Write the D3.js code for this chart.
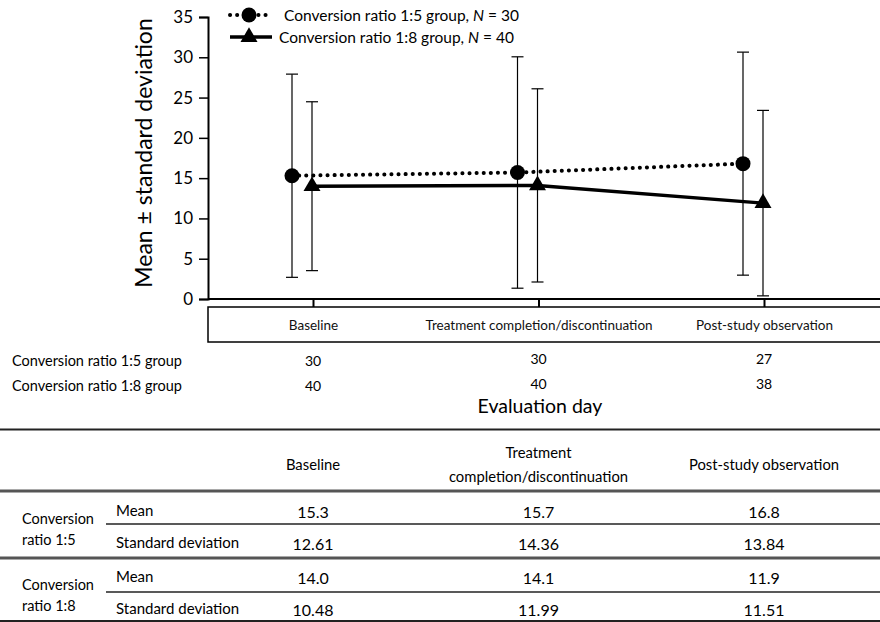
<!DOCTYPE html>
<html>
<head>
<meta charset="utf-8">
<script src="https://cdn.jsdelivr.net/npm/d3@7"></script>
<style>
  body { margin: 0; background: #fff; }
  svg { font-family: Lato, "Open Sans", sans-serif; display: block; }
</style>
</head>
<body>
<div id="chart"></div>
<script>
// data
var categories = ["Baseline", "Treatment completion/discontinuation", "Post-study observation"];
var headerLines = [["Baseline"], ["Treatment", "completion/discontinuation"], ["Post-study observation"]];
var mean15 = [15.3, 15.7, 16.8];
var sd15 = [12.61, 14.36, 13.84];
var mean18 = [14.0, 14.1, 11.9];
var sd18 = [10.48, 11.99, 11.51];
var n15 = [30, 30, 27];
var n18 = [40, 40, 38];
var yTicks = [0, 5, 10, 15, 20, 25, 30, 35];
var groupNames = ["Conversion ratio 1:5 group", "Conversion ratio 1:8 group"];

var width = 880, height = 622;

var svg = d3.select("#chart").append("svg")
  .attr("width", width)
  .attr("height", height);

// scales
var x = d3.scalePoint().domain(categories).range([313, 764]);
var y = d3.scaleLinear().domain([0, 35]).range([299, 17]);

// box under the x axis
svg.append("rect")
  .attr("x", 208).attr("y", 307)
  .attr("width", 680).attr("height", 35)
  .attr("fill", "none").attr("stroke", "#000").attr("stroke-width", 1.5);

// y axis
var yAxis = svg.append("g")
  .attr("transform", "translate(208,0)")
  .call(d3.axisLeft(y).tickValues(yTicks).tickSize(9).tickPadding(6));
yAxis.select(".domain").attr("stroke-width", 2);
yAxis.selectAll(".tick line").attr("stroke-width", 1.5);
yAxis.selectAll("text").style("font-size", "17px").style("font-family", "Lato, sans-serif").attr("fill", "#000");

// x axis (ticks go down into the box)
var xAxis = svg.append("g")
  .attr("transform", "translate(0," + y(0) + ")")
  .call(d3.axisBottom(x).tickSize(8).tickPadding(13));
xAxis.select(".domain").remove();
xAxis.selectAll(".tick line").attr("stroke-width", 2);
xAxis.selectAll("text").style("font-size", "13.5px").style("font-family", "Lato, sans-serif").attr("fill", "#111");

svg.append("line")
  .attr("x1", 208).attr("x2", width)
  .attr("y1", y(0)).attr("y2", y(0))
  .attr("stroke", "#000").attr("stroke-width", 2);

svg.append("text")
  .attr("transform", "translate(143," + 153 + ") rotate(-90)")
  .attr("text-anchor", "middle")
  .attr("dominant-baseline", "central")
  .style("font-size", "23px")
  .text("Mean \u00b1 standard deviation");

// series
var series = [
  { mean: mean15, sd: sd15, dx: -21, dash: "0.1 7", width: 4, shape: "circle" },
  { mean: mean18, sd: sd18, dx: -1, dash: null, width: 3.5, shape: "triangle" }
];

var line = d3.line();

series.forEach(function(s) {
  var pts = categories.map(function(c, i) { return [x(c) + s.dx, y(s.mean[i])]; });

  // error bars
  categories.forEach(function(c, i) {
    var cx = x(c) + s.dx;
    var top = y(s.mean[i] + s.sd[i]), bot = y(s.mean[i] - s.sd[i]);
    var g = svg.append("g").attr("stroke", "#000").attr("stroke-width", 1.2);
    g.append("line").attr("x1", cx).attr("x2", cx).attr("y1", top).attr("y2", bot);
    g.append("line").attr("x1", cx - 6).attr("x2", cx + 6).attr("y1", top).attr("y2", top);
    g.append("line").attr("x1", cx - 6).attr("x2", cx + 6).attr("y1", bot).attr("y2", bot);
  });

  svg.append("path")
    .attr("d", line(pts))
    .attr("fill", "none")
    .attr("stroke", "#000")
    .attr("stroke-width", s.width)
    .attr("stroke-linecap", s.dash ? "round" : "butt")
    .attr("stroke-dasharray", s.dash);

  pts.forEach(function(p) {
    if (s.shape == "circle") {
      svg.append("circle").attr("cx", p[0]).attr("cy", p[1]).attr("r", 7.5).attr("fill", "#000");
    } else {
      svg.append("path")
        .attr("d", d3.symbol(d3.symbolTriangle).size(125)())
        .attr("transform", "translate(" + p[0] + "," + p[1] + ")")
        .attr("fill", "#000");
    }
  });
});

// legend
var legend = [
  { y: 15, dash: "0.1 7", width: 4, shape: "circle", label: "Conversion ratio 1:5 group, ", n: "30", tx: 284 },
  { y: 37, dash: null, width: 3.5, shape: "triangle", label: "Conversion ratio 1:8 group, ", n: "40", tx: 279 }
];
legend.forEach(function(l) {
  svg.append("line")
    .attr("x1", 230).attr("x2", 272).attr("y1", l.y).attr("y2", l.y)
    .attr("stroke", "#000").attr("stroke-width", l.width)
    .attr("stroke-linecap", l.dash ? "round" : "butt")
    .attr("stroke-dasharray", l.dash);
  if (l.shape == "circle") {
    svg.append("circle").attr("cx", 249).attr("cy", l.y).attr("r", 7.5);
  } else {
    svg.append("path").attr("d", d3.symbol(d3.symbolTriangle).size(125)())
      .attr("transform", "translate(249," + l.y + ")");
  }
  var t = svg.append("text").attr("x", l.tx).attr("y", l.y)
    .attr("dominant-baseline", "central").style("font-size", "15.5px");
  t.append("tspan").text(l.label);
  t.append("tspan").style("font-style", "italic").text("N");
  t.append("tspan").text(" = " + l.n);
});

// N at risk rows
[n15, n18].forEach(function(arr, r) {
  var ry = 360 + r * 25;
  svg.append("text").attr("x", 12).attr("y", ry)
    .attr("dominant-baseline", "central").style("font-size", "14.5px")
    .text(groupNames[r]);
  svg.selectAll(null).data(arr).enter().append("text")
    .attr("x", function(d, i) { return x(categories[i]); })
    .attr("y", function(d, i) { return ry - (i > 0 ? 2 : 0); })
    .attr("text-anchor", "middle")
    .attr("dominant-baseline", "central")
    .style("font-size", "14px")
    .text(function(d) { return d; });
});

svg.append("text")
  .attr("x", 540).attr("y", 405)
  .attr("text-anchor", "middle")
  .attr("dominant-baseline", "central")
  .style("font-size", "19.5px")
  .text("Evaluation day");

// summary table
function hline(yy, x1, sw, col) {
  svg.append("line").attr("x1", x1).attr("x2", width).attr("y1", yy).attr("y2", yy)
    .attr("stroke", col).attr("stroke-width", sw);
}
hline(429.5, 0, 2, "#222");
hline(491, 0, 3, "#555");
hline(524, 106, 1.5, "#222");
hline(558, 0, 3, "#555");
hline(592, 106, 1.5, "#222");
hline(621, 0, 2, "#222");

headerLines.forEach(function(lines, i) {
  var t = svg.append("text")
    .attr("x", x(categories[i]))
    .attr("y", 464 - (lines.length - 1) * 12)
    .attr("text-anchor", "middle")
    .attr("dominant-baseline", "central")
    .style("font-size", "14.8px");
  lines.forEach(function(s, j) {
    t.append("tspan").attr("x", x(categories[i])).attr("dy", j == 0 ? 0 : 24).text(s);
  });
});

var fmt1 = d3.format(".1f"), fmt2 = d3.format(".2f");
var tableGroups = [
  { name: ["Conversion", "ratio 1:5"], mean: mean15, sd: sd15, top: 511 },
  { name: ["Conversion", "ratio 1:8"], mean: mean18, sd: sd18, top: 577 }
];
tableGroups.forEach(function(g) {
  svg.append("text").attr("x", 22).attr("y", g.top + 7)
    .attr("dominant-baseline", "central").style("font-size", "14.5px").text(g.name[0]);
  svg.append("text").attr("x", 22).attr("y", g.top + 28)
    .attr("dominant-baseline", "central").style("font-size", "14.5px").text(g.name[1]);
  svg.append("text").attr("x", 116).attr("y", g.top - 1)
    .attr("dominant-baseline", "central").style("font-size", "15px").text("Mean");
  svg.append("text").attr("x", 116).attr("y", g.top + 31)
    .attr("dominant-baseline", "central").style("font-size", "15px").text("Standard deviation");
  svg.selectAll(null).data(g.mean).enter().append("text")
    .attr("x", function(d, i) { return x(categories[i]); })
    .attr("y", g.top)
    .attr("text-anchor", "middle").attr("dominant-baseline", "central")
    .style("font-size", "16px")
    .text(function(d) { return fmt1(d); });
  svg.selectAll(null).data(g.sd).enter().append("text")
    .attr("x", function(d, i) { return x(categories[i]); })
    .attr("y", g.top + 32)
    .attr("text-anchor", "middle").attr("dominant-baseline", "central")
    .style("font-size", "16px")
    .text(function(d) { return fmt2(d); });
});
</script>
</body>
</html>
